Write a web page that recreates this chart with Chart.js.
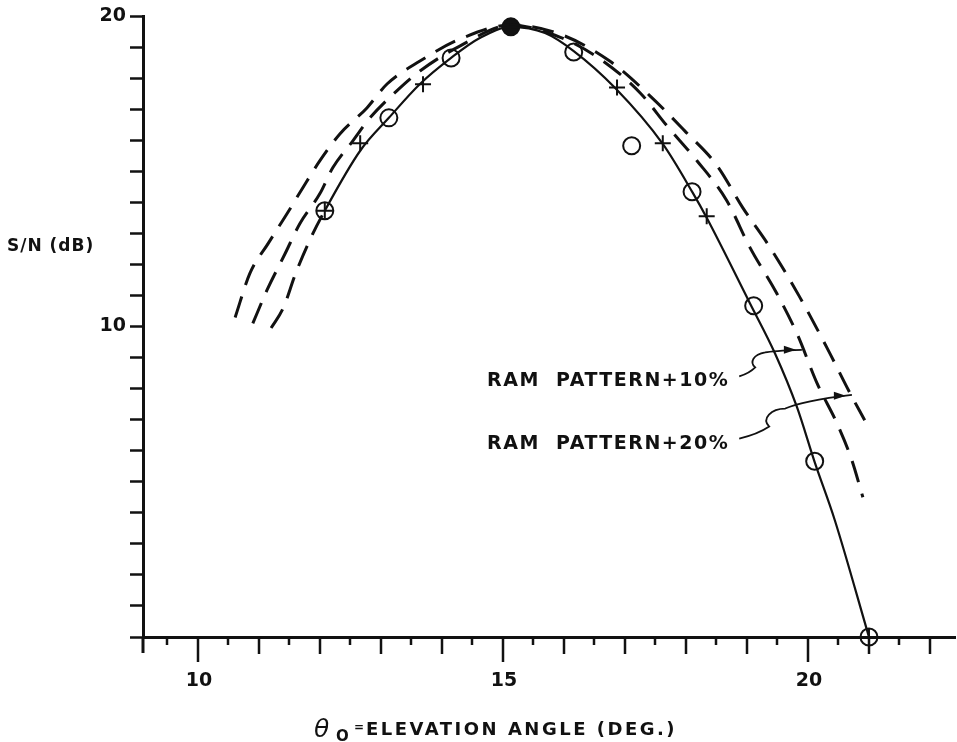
<!DOCTYPE html>
<html>
<head>
<meta charset="utf-8">
<script src="https://cdn.jsdelivr.net/npm/chart.js@4.4.1/dist/chart.umd.min.js"></script>
<style>
  html, body { margin: 0; padding: 0; background: #fff; }
  #wrap { width: 957px; height: 742px; }
</style>
</head>
<body>
<div id="wrap"><canvas id="snChart" width="957" height="742"></canvas></div>
<script>
// ── data ───────────────────────────────────────────────
// RAM pattern (solid, dashed below ~12 deg), [elevation deg, S/N dB]
const ramPattern = [
    [11.20, 9.95], [11.40, 10.60], [11.60, 11.70], [11.85, 12.85], [12.08, 13.73],
    [12.66, 15.66], [13.13, 16.72], [13.64, 17.81], [14.15, 18.65], [14.62, 19.29],
    [15.13, 19.65], [15.69, 19.45], [16.16, 18.87], [16.84, 17.68], [17.62, 15.88],
    [18.11, 14.31], [18.34, 13.50], [19.05, 10.74], [19.46, 9.13], [19.82, 7.40],
    [20.11, 5.63], [20.44, 3.76], [21.00, 0]
];
const ramDashedUntil = 4;   // last index of the dashed lead-in

const ramPlus10 = [
    [10.90, 10.10], [11.13, 11.16], [11.43, 12.35], [11.67, 13.31], [12.00, 14.28],
    [12.21, 15.11], [12.54, 15.98], [12.82, 16.72], [13.26, 17.59], [13.64, 18.23],
    [14.30, 19.04], [15.13, 19.71], [15.93, 19.32], [16.59, 18.62], [17.25, 17.52],
    [17.69, 16.46], [18.18, 15.34], [18.67, 14.05], [19.05, 12.54], [19.49, 11.06],
    [19.82, 9.77], [20.15, 8.17], [20.49, 6.82], [20.72, 5.69], [20.90, 4.50]
];

const ramPlus20 = [
    [10.61, 10.29], [10.85, 11.70], [11.15, 12.67], [11.46, 13.63], [11.72, 14.47],
    [12.00, 15.34], [12.33, 16.21], [12.77, 17.04], [13.10, 17.81], [13.64, 18.55],
    [14.30, 19.26], [15.13, 19.71], [15.93, 19.42], [16.75, 18.55], [17.41, 17.43],
    [17.98, 16.30], [18.51, 15.18], [18.93, 13.83], [19.38, 12.54], [19.87, 10.93],
    [20.31, 9.32], [20.69, 7.85], [20.93, 6.98]
];

// measured points
const openCircles = [
    [12.08, 13.73], [13.13, 16.72], [14.15, 18.65], [16.16, 18.84], [17.11, 15.82],
    [18.10, 14.34], [19.11, 10.67], [20.11, 5.66], [21.00, 0]
];
const peakPoint = [[15.13, 19.65]];
const plusPoints = [
    [12.08, 13.73], [12.66, 15.90], [13.69, 17.80], [16.87, 17.70], [17.62, 15.90],
    [18.34, 13.55], [21.00, 0]
];

// axes
const xTicks = [9.5, 10, 10.5, 11, 11.5, 12, 12.5, 13, 13.5, 14, 14.5, 15, 15.5, 16, 16.5,
    17, 17.5, 18, 18.5, 19, 19.5, 20, 20.5, 21, 21.5, 22];
const xLabelled = [10, 15, 20];
const yTicks = [0, 1, 2, 3, 4, 5, 6, 7, 8, 9, 10, 11, 12, 13, 14, 15, 16, 17, 18, 19, 20];
const yLabelled = [10, 20];

// annotation labels: text, text anchor, arrow tip (data coords)
const patternNotes = [
    { text: 'RAM  PATTERN+10%', at: [14.74, 8.07], tip: [19.90, 9.25] },
    { text: 'RAM  PATTERN+20%', at: [14.74, 6.07], tip: [20.72, 7.80] }
];

const pts = arr => arr.map(p => ({ x: p[0], y: p[1] }));
const INK = '#111';
const LETTER = '"DejaVu Sans", "Liberation Sans", sans-serif';

// ── extra drawing: hanging x ticks, titles, leaders ──────
const paperMarks = {
    id: 'paperMarks',
    afterDraw(chart) {
        const { ctx, chartArea: a, scales: { x, y } } = chart;
        ctx.save();
        ctx.strokeStyle = INK;
        ctx.fillStyle = INK;
        ctx.lineCap = 'butt';

        // x ticks: long on 5s, medium on whole degrees, short on halves
        ctx.lineWidth = 2.5;
        xTicks.forEach(v => {
            const px = Math.round(x.getPixelForValue(v));
            const len = v % 5 === 0 ? 25 : Number.isInteger(v) ? 17 : 8;
            ctx.beginPath();
            ctx.moveTo(px, a.bottom);
            ctx.lineTo(px, a.bottom + len);
            ctx.stroke();
        });

        // x tick labels
        ctx.font = 'bold 19px ' + LETTER;
        ctx.textAlign = 'center';
        ctx.textBaseline = 'top';
        xLabelled.forEach(v => ctx.fillText(String(v), x.getPixelForValue(v) + 1, a.bottom + 35));

        // y axis runs on a little below the x axis
        ctx.lineWidth = 3;
        ctx.beginPath();
        ctx.moveTo(a.left, a.bottom);
        ctx.lineTo(a.left, a.bottom + 16);
        ctx.stroke();

        // y title
        ctx.font = 'bold 17px ' + LETTER;
        ctx.letterSpacing = '1px';
        ctx.textBaseline = 'alphabetic';
        ctx.textAlign = 'left';
        ctx.fillText('S/N (dB)', 7, 251);

        // x title: theta with subscript O
        ctx.letterSpacing = '0px';
        ctx.font = 'italic 25px ' + LETTER;
        ctx.fillText('θ', 314, 737);
        ctx.font = 'bold 15px ' + LETTER;
        ctx.fillText('O', 336, 741);
        ctx.font = 'bold 12px ' + LETTER;
        ctx.fillText('=', 354, 731);
        ctx.font = 'bold 18px ' + LETTER;
        ctx.letterSpacing = '2.5px';
        ctx.fillText('ELEVATION ANGLE (DEG.)', 366, 735);

        // pattern notes with squiggly leaders
        ctx.font = 'bold 19px ' + LETTER;
        ctx.letterSpacing = '1.5px';
        patternNotes.forEach((n, i) => {
            const tx = x.getPixelForValue(n.at[0]);
            const ty = y.getPixelForValue(n.at[1]);
            ctx.fillText(n.text, tx, ty);
            const w = ctx.measureText(n.text).width;

            const px = x.getPixelForValue(n.tip[0]);
            const py = y.getPixelForValue(n.tip[1]);
            const sx = tx + w + 10, sy = ty - 10;
            ctx.lineWidth = 1.8;
            ctx.beginPath();
            ctx.moveTo(sx, sy);
            if (i === 0) {
                ctx.quadraticCurveTo(sx + 10, sy - 3, sx + 16, sy - 9);
                ctx.bezierCurveTo(sx + 10, sy - 14, sx + 14, sy - 22, sx + 26, sy - 24);
                ctx.quadraticCurveTo(px - 30, py + 1, px, py);
            } else {
                ctx.quadraticCurveTo(sx + 18, sy - 4, sx + 30, sy - 12);
                ctx.bezierCurveTo(sx + 22, sy - 20, sx + 32, sy - 30, sx + 46, sy - 30);
                ctx.quadraticCurveTo(px - 50, py + 6, px, py);
            }
            ctx.stroke();

            // arrowhead just short of the tip
            const hx = px - 6, hy = py + (i === 0 ? 0 : 1);
            ctx.beginPath();
            ctx.moveTo(hx, hy);
            ctx.lineTo(hx - 12, hy - 4);
            ctx.lineTo(hx - 12, hy + 4);
            ctx.closePath();
            ctx.fill();
        });

        ctx.restore();
    }
};

// ── chart ───────────────────────────────────────────────
const dashedCurve = data => ({
    data: pts(data),
    showLine: true,
    borderColor: INK,
    borderWidth: 3,
    borderDash: [22, 12],
    pointRadius: 0,
    cubicInterpolationMode: 'monotone',
    clip: false
});

new Chart(document.getElementById('snChart'), {
    type: 'scatter',
    data: {
        datasets: [
            {
                data: pts(ramPattern),
                showLine: true,
                borderColor: INK,
                borderWidth: 2.2,
                pointRadius: 0,
                cubicInterpolationMode: 'monotone',
                clip: false,
                segment: {
                    borderDash: ctx => ctx.p1DataIndex <= ramDashedUntil ? [22, 12] : [],
                    borderWidth: ctx => ctx.p1DataIndex <= ramDashedUntil ? 3 : 2.2
                }
            },
            dashedCurve(ramPlus10),
            dashedCurve(ramPlus20),
            {
                data: pts(openCircles),
                pointStyle: 'circle',
                pointRadius: 8.5,
                pointBorderWidth: 2,
                pointBorderColor: INK,
                pointBackgroundColor: 'rgba(255,255,255,0)',
                clip: false
            },
            {
                data: pts(peakPoint),
                pointStyle: 'circle',
                pointRadius: 8.5,
                pointBorderWidth: 2,
                pointBorderColor: INK,
                pointBackgroundColor: INK,
                clip: false
            },
            {
                data: pts(plusPoints),
                pointStyle: 'cross',
                pointRadius: 8,
                pointBorderWidth: 2,
                pointBorderColor: INK,
                clip: false
            }
        ]
    },
    options: {
        responsive: false,
        animation: false,
        devicePixelRatio: 1,
        // markers may hang over the axes, no room kept for them
        layout: { autoPadding: false, padding: { top: 16, right: 2, left: 0, bottom: 0 } },
        plugins: {
            legend: { display: false },
            tooltip: { enabled: false }
        },
        scales: {
            x: {
                type: 'linear',
                min: 9.1,
                max: 22.41,
                afterFit: s => { s.height = 105; },
                afterBuildTicks: s => { s.ticks = xTicks.map(v => ({ value: v })); },
                grid: { display: false },
                border: { display: true, color: INK, width: 3 },
                // labels go in with the hanging ticks
                ticks: { display: false, padding: 0 }
            },
            y: {
                min: 0,
                max: 20,
                afterFit: s => {
                    s.width = 143;
                    s.paddingTop = 0;
                    s.paddingBottom = 0;
                },
                afterBuildTicks: s => { s.ticks = yTicks.map(v => ({ value: v })); },
                grid: {
                    drawOnChartArea: false,
                    drawTicks: true,
                    tickLength: 13,
                    tickWidth: 2.5,
                    tickColor: INK
                },
                border: { display: true, color: INK, width: 3 },
                ticks: {
                    padding: 4,
                    color: INK,
                    font: { family: LETTER, size: 19, weight: 'bold' },
                    callback: v => yLabelled.includes(v) ? String(v) : ''
                }
            }
        }
    },
    plugins: [paperMarks]
});
</script>
</body>
</html>
